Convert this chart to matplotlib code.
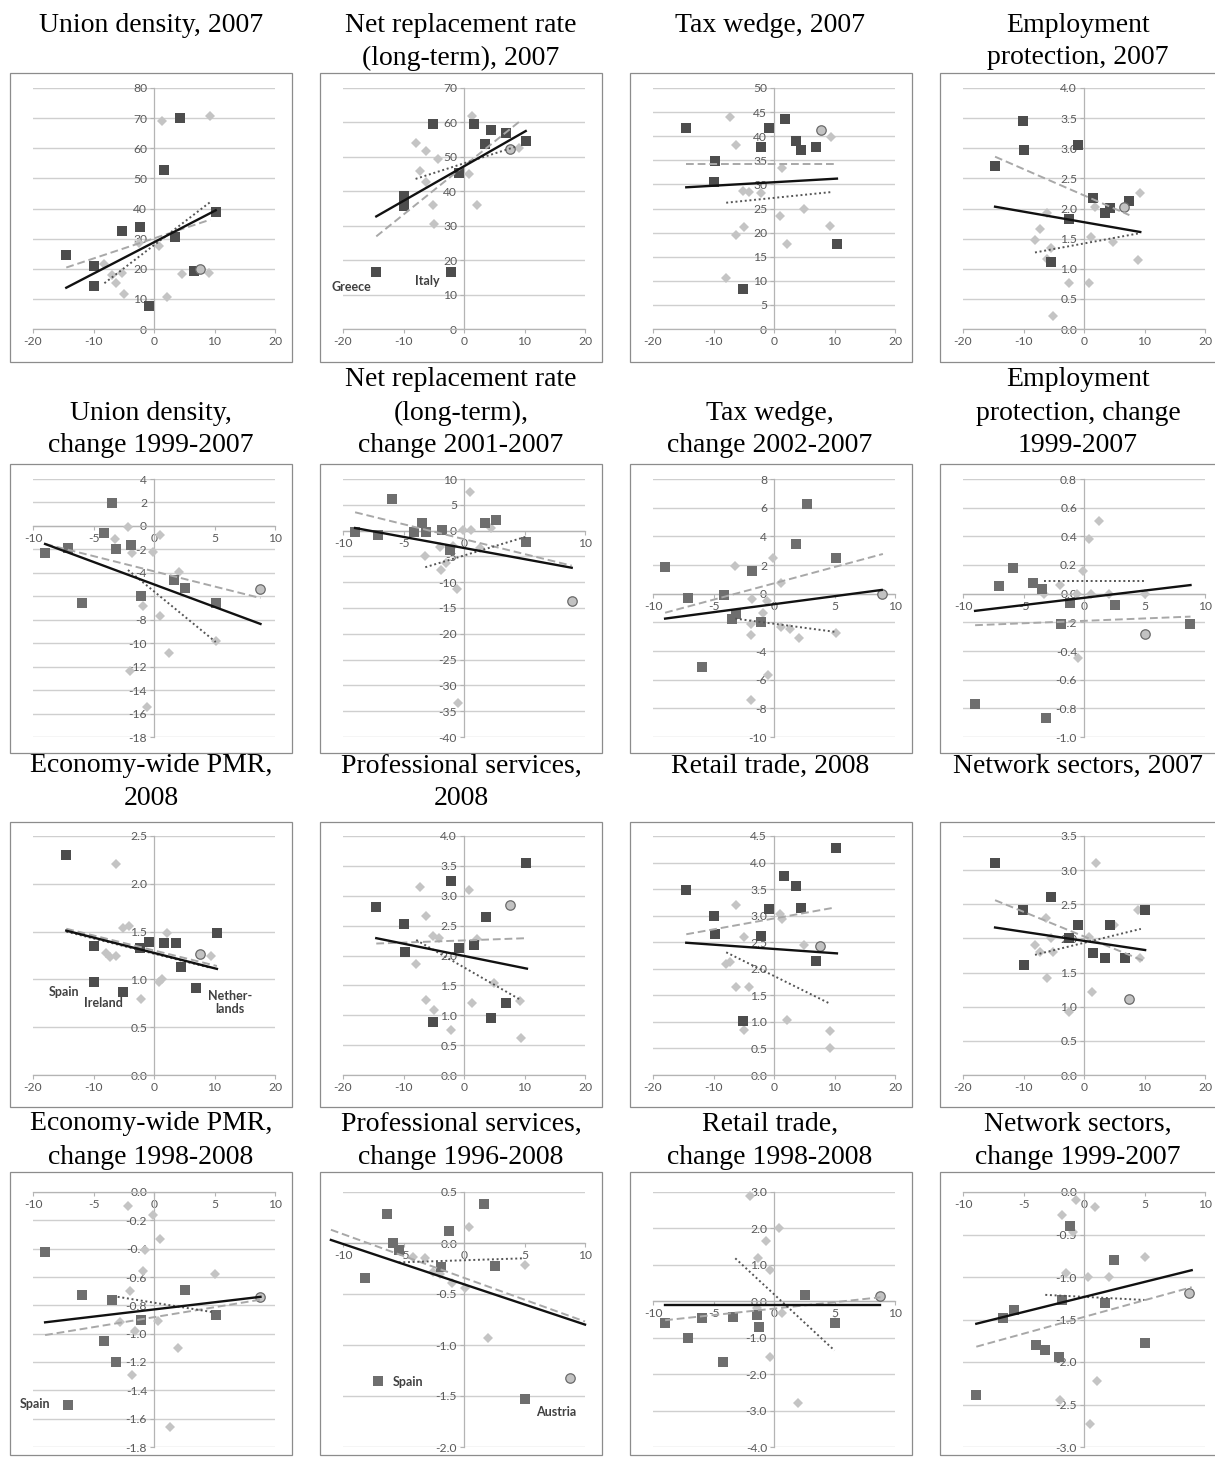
import matplotlib
matplotlib.use('Agg')
import matplotlib.pyplot as plt
from matplotlib.patches import Rectangle
from matplotlib.ticker import MultipleLocator, FuncFormatter

plt.rcParams['axes.unicode_minus'] = False
plt.rcParams['font.family'] = ['Lato', 'DejaVu Sans']

# ---------------- data ----------------
# Union density, 2007
ud07_sq_x = [-14.5, -10.0, -9.9, -5.3, -2.3, -0.8, 1.6, 4.3, 3.4, 6.6, 10.2]
ud07_sq_y = [24.4, 20.9, 14.3, 32.4, 33.7, 7.6, 52.9, 70.1, 30.7, 19.3, 38.8]
ud07_di_x = [1.3, 9.3, -8.2, -7.0, -5.3, -6.2, -5.0, 0.9, 2.1, 4.7, 9.1, -2.5]
ud07_di_y = [69.1, 70.7, 21.6, 18.0, 18.5, 15.2, 11.7, 27.6, 10.5, 18.3, 18.7, 28.5]
ud07_ci = [7.6, 19.9]
ud07_fit = [([-14.5, 10.2], [13.7, 39.4]), ([-14.5, 9.3], [20.4, 36.3]), ([-8.2, 9.4], [15.2, 42.3])]

# Net replacement rate (long-term), 2007
nrr07_sq_x = [-14.5, -9.9, -9.9, -5.2, -0.9, -2.2, 1.6, 4.4, 3.5, 6.9, 10.2]
nrr07_sq_y = [16.7, 38.6, 35.6, 59.4, 45.2, 16.7, 59.4, 57.9, 53.8, 56.8, 54.5]
nrr07_di_x = [1.4, -8.0, -6.2, -4.3, -7.2, -6.2, -5.2, -5.0, 0.9, 2.2, 9.1]
nrr07_di_y = [61.8, 54.0, 51.6, 49.5, 45.8, 42.7, 36.1, 30.5, 45.0, 35.9, 52.6]
nrr07_ci = [7.6, 52.3]
nrr07_fit = [([-14.5, 10.2], [32.7, 57.5]), ([-14.5, 9.2], [26.9, 60.3]), ([-8.0, 8.8], [43.6, 53.1])]
nrr07_notes = [('Greece', -18.6, 12.3), ('Italy', -6.1, 13.8)]

# Tax wedge, 2007
tw07_sq_x = [-14.5, -9.8, -9.9, -5.2, -2.2, -0.8, 1.8, 3.6, 4.5, 6.9, 10.4]
tw07_sq_y = [41.6, 34.8, 30.4, 8.2, 37.8, 41.7, 43.6, 39.1, 37.1, 37.8, 17.7]
tw07_di_x = [-7.2, -6.2, -5.2, -4.2, -2.2, -5.0, -6.2, -7.9, 1.4, 1.0, 2.2, 4.9, 9.4, 9.3]
tw07_di_y = [43.9, 38.1, 28.7, 28.4, 28.2, 21.2, 19.5, 10.5, 33.5, 23.5, 17.6, 25.0, 39.8, 21.3]
tw07_ci = [7.7, 41.3]
tw07_fit = [([-14.5, 10.4], [29.4, 31.2]), ([-14.5, 10.4], [34.3, 34.3]), ([-7.9, 9.4], [26.2, 28.4])]

# Employment protection, 2007
ep07_sq_x = [-14.7, -10.1, -10.0, -1.0, -2.5, -5.4, 1.5, 3.4, 4.3, 7.5]
ep07_sq_y = [2.71, 3.46, 2.97, 3.05, 1.82, 1.12, 2.17, 1.92, 2.01, 2.12]
ep07_di_x = [-8.1, -7.2, -6.1, -5.4, -6.1, -2.5, -5.2, 0.8, 1.2, 1.9, 4.8, 9.2, 9.0]
ep07_di_y = [1.48, 1.66, 1.92, 1.35, 1.16, 0.76, 0.22, 0.76, 1.52, 2.03, 1.45, 2.25, 1.15]
ep07_ci = [6.6, 2.03]
ep07_fit = [([-14.7, 9.3], [2.03, 1.61]), ([-14.7, 7.5], [2.86, 1.89]), ([-8.1, 9.2], [1.27, 1.59])]

# Union density, change 1999-2007
udch_sq_x = [-9.0, -7.1, -5.96, -4.1, -3.5, -3.1, -1.9, -1.05, 1.66, 2.6, 5.1]
udch_sq_y = [-2.33, -1.88, -6.6, -0.63, 1.99, -1.93, -1.65, -5.97, -4.6, -5.3, -6.6]
udch_di_x = [-2.15, -3.2, -1.8, -0.1, 0.5, 2.1, -0.94, 0.5, 1.2, 5.1, -2.0, -0.55]
udch_di_y = [-0.06, -1.08, -2.33, -2.2, -0.8, -3.9, -6.8, -7.7, -10.8, -9.8, -12.4, -15.4]
udch_ci = [8.8, -5.4]
udch_fit = [([-9.0, 8.8], [-1.54, -8.36]), ([-9.0, 8.8], [-1.54, -6.15]), ([-2.15, 5.1], [-3.76, -9.9])]

# Net replacement rate, change 2001-2007
nrrch_sq_x = [-9.0, -7.1, -5.96, -4.1, -3.5, -3.1, -1.8, -1.16, 1.77, 2.65, 5.1]
nrrch_sq_y = [-0.3, -0.8, 6.2, -0.3, 1.5, -0.3, 0.06, -3.7, 1.5, 2.1, -2.3]
nrrch_di_x = [0.5, -0.1, 0.6, -3.2, -2.0, -0.94, -1.9, -1.5, -0.55, -0.5, 1.3, 2.2]
nrrch_di_y = [7.5, 0.2, 0.2, -5.0, -3.2, -2.9, -7.6, -6.3, -11.4, -33.5, -3.3, 0.6]
nrrch_ci = [8.9, -13.6]
nrrch_fit = [([-9.0, 8.9], [0.5, -7.2]), ([-9.0, 8.9], [3.55, -6.8]), ([-3.2, 5.1], [-7.1, -1.2])]

# Tax wedge, change 2002-2007
twch_sq_x = [-9.0, -7.1, -5.96, -4.1, -3.5, -3.1, -1.8, -1.1, 1.8, 2.7, 5.1]
twch_sq_y = [1.88, -0.3, -5.1, -0.07, -1.74, -1.44, 1.56, -1.98, 3.47, 6.26, 2.49]
twch_di_x = [-3.2, -0.1, 0.6, -1.8, -0.55, -0.94, -1.9, -1.9, 0.6, 1.3, 2.1, 5.1, -0.5, -1.9]
twch_di_y = [1.93, 2.49, 0.72, -0.4, -0.53, -1.37, -2.1, -2.9, -2.35, -2.44, -3.1, -2.72, -5.7, -7.4]
twch_ci = [8.9, -0.02]
twch_fit = [([-9.0, 8.9], [-1.74, 0.26]), ([-9.0, 9.0], [-1.33, 2.77]), ([-3.2, 5.1], [-1.74, -2.67])]

# Employment protection, change 1999-2007
epch_sq_x = [-9.0, -7.0, -5.9, -4.2, -3.5, -3.1, -1.9, -1.15, 2.6, 8.8]
epch_sq_y = [-0.77, 0.054, 0.18, 0.072, 0.035, -0.87, -0.21, -0.068, -0.077, -0.21]
epch_di_x = [1.2, 0.44, -0.1, -2.0, -3.3, -0.55, 0.55, 2.05, 5.0, -0.5]
epch_di_y = [0.51, 0.38, 0.16, 0.063, 0.0, 0.0, 0.0, 0.0, 0.0, -0.45]
epch_ci = [5.07, -0.28]
epch_fit = [([-9.0, 8.8], [-0.12, 0.06]), ([-9.0, 8.8], [-0.22, -0.16]), ([-3.3, 5.07], [0.09, 0.09])]

# Economy-wide PMR, 2008
pmr08_sq_x = [-14.5, -10.0, -9.9, -5.2, -2.3, -0.8, 1.65, 3.6, 4.5, 6.9, 10.4]
pmr08_sq_y = [2.30, 1.35, 0.97, 0.87, 1.33, 1.39, 1.38, 1.38, 1.13, 0.91, 1.49]
pmr08_di_x = [-6.2, -5.2, -4.2, -7.9, -7.2, -6.2, -2.2, 0.9, 1.4, 2.2, 9.4]
pmr08_di_y = [2.21, 1.54, 1.56, 1.28, 1.23, 1.24, 0.80, 0.97, 1.00, 1.49, 1.24]
pmr08_ci = [7.6, 1.27]
pmr08_fit = [([-14.5, 10.4], [1.51, 1.11]), ([-14.5, 10.4], [1.53, 1.14]), ([-14.5, 9.4], [1.50, 1.12])]
pmr08_notes = [('Spain', -14.9, 0.87), ('Ireland', -8.4, 0.75), ('Nether-\nlands', 12.6, 0.76)]

# Professional services, 2008
ps08_sq_x = [-14.5, -9.9, -9.8, -5.2, -2.2, -0.8, 1.66, 3.6, 4.5, 6.9, 10.3]
ps08_sq_y = [2.81, 2.53, 2.06, 0.88, 3.24, 2.12, 2.17, 2.65, 0.96, 1.21, 3.54]
ps08_di_x = [-7.2, 0.9, -6.2, -5.2, -4.2, 2.1, -7.9, -6.2, -5.0, -2.2, 1.4, 4.9, 9.3, 9.4]
ps08_di_y = [3.15, 3.10, 2.66, 2.32, 2.29, 2.28, 1.86, 1.25, 1.09, 0.75, 1.20, 1.54, 1.24, 0.62]
ps08_ci = [7.6, 2.85]
ps08_fit = [([-14.5, 10.4], [2.29, 1.78]), ([-14.5, 10.4], [2.20, 2.29]), ([-7.9, 9.3], [2.26, 1.26])]

# Retail trade, 2008
rt08_sq_x = [-14.5, -9.9, -9.8, -5.2, -2.2, -0.8, 1.65, 3.6, 4.5, 6.9, 10.3]
rt08_sq_y = [3.49, 3.00, 2.66, 1.01, 2.62, 3.12, 3.74, 3.55, 3.14, 2.14, 4.28]
rt08_di_x = [-6.2, -4.9, 1.0, 1.4, -7.9, -7.2, 4.9, -6.2, -4.2, -5.0, 2.2, 9.2, 9.3]
rt08_di_y = [3.20, 2.59, 3.04, 2.93, 2.09, 2.12, 2.45, 1.65, 1.65, 0.85, 1.03, 0.82, 0.51]
rt08_ci = [7.6, 2.43]
rt08_fit = [([-14.5, 10.4], [2.49, 2.29]), ([-14.5, 9.9], [2.65, 3.15]), ([-7.9, 9.3], [2.31, 1.34])]

# Network sectors, 2007
ns07_sq_x = [-14.7, -10.1, -10.0, -5.4, -2.4, -1.0, 1.5, 3.4, 4.3, 6.7, 10.0]
ns07_sq_y = [3.11, 2.41, 1.61, 2.60, 2.00, 2.20, 1.79, 1.71, 2.20, 1.71, 2.41]
ns07_di_x = [2.0, -6.2, -5.4, -8.1, -7.2, -5.2, -2.1, 0.8, -6.1, 1.3, -2.5, 8.9, 9.2, 4.9]
ns07_di_y = [3.11, 2.30, 2.00, 1.90, 1.80, 1.80, 2.00, 2.02, 1.42, 1.22, 0.92, 2.41, 1.71, 2.20]
ns07_ci = [7.5, 1.11]
ns07_fit = [([-14.7, 10.1], [2.16, 1.83]), ([-14.7, 10.2], [2.56, 1.66]), ([-8.1, 9.4], [1.76, 2.14])]

# Economy-wide PMR, change 1998-2008
pmrch_sq_x = [-9.0, -7.1, -5.96, -4.1, -3.5, -3.1, -1.1, 2.6, 5.1]
pmrch_sq_y = [-0.42, -1.50, -0.73, -1.05, -0.76, -1.20, -0.90, -0.69, -0.87]
pmrch_di_x = [-2.15, -0.1, 0.5, -0.75, -0.9, -2.0, -2.8, -1.6, 0.3, 2.0, -1.8, 1.3, 5.0]
pmrch_di_y = [-0.10, -0.16, -0.33, -0.41, -0.56, -0.70, -0.92, -0.98, -0.91, -1.10, -1.29, -1.66, -0.58]
pmrch_ci = [8.8, -0.74]
pmrch_fit = [([-9.0, 8.8], [-0.92, -0.74]), ([-9.0, 8.8], [-1.01, -0.76]), ([-3.0, 5.0], [-0.74, -0.85])]
pmrch_notes = [('Spain', -9.8, -1.50)]

# Professional services, change 1996-2008
psch_sq_x = [-8.2, -7.1, -6.4, -5.9, -5.4, -1.9, -1.2, 1.65, 2.6, 5.0]
psch_sq_y = [-0.34, -1.35, 0.28, 0.0, -0.07, -0.24, 0.12, 0.38, -0.23, -1.53]
psch_di_x = [0.4, -4.2, -3.2, -2.6, -2.0, -1.0, 0.1, 5.0, 2.0]
psch_di_y = [0.16, -0.14, -0.15, -0.28, -0.30, -0.39, -0.44, -0.22, -0.93]
psch_ci = [8.8, -1.32]
psch_fit = [([-11.0, 10.0], [0.03, -0.80]), ([-11.0, 10.0], [0.13, -0.77]), ([-5.4, 5.0], [-0.19, -0.15])]
psch_notes = [('Spain', -4.6, -1.36), ('Austria', 7.6, -1.66)]

# Retail trade, change 1998-2008
rtch_sq_x = [-9.0, -7.1, -5.95, -4.2, -3.4, -1.4, -1.2, 2.6, 5.0]
rtch_sq_y = [-0.60, -1.02, -0.47, -1.68, -0.44, -0.38, -0.71, 0.16, -0.60]
rtch_di_x = [-2.0, 0.4, -0.7, -1.3, -0.3, 0.7, -0.3, 5.0, 2.0, -1.4]
rtch_di_y = [2.88, 2.0, 1.65, 1.2, 0.85, -0.33, -1.54, -0.58, -2.8, -0.19]
rtch_ci = [8.8, 0.14]
rtch_fit = [([-9.0, 8.8], [-0.11, -0.11]), ([-9.0, 8.8], [-0.52, 0.11]), ([-3.2, 5.0], [1.18, -1.35])]

# Network sectors, change 1999-2007
nsch_sq_x = [-8.9, -6.7, -5.8, -4.0, -3.2, -1.8, -2.1, -1.15, 1.7, 2.5, 5.0]
nsch_sq_y = [-2.39, -1.48, -1.39, -1.80, -1.86, -1.27, -1.94, -0.40, -1.31, -0.80, -1.78]
nsch_di_x = [-0.7, -0.9, -1.8, 0.9, -1.5, 0.3, 2.1, 5.0, -2.0, 0.5, 1.1]
nsch_di_y = [-0.09, -0.47, -0.27, -0.18, -0.95, -1.0, -1.0, -0.76, -2.45, -2.73, -2.22]
nsch_ci = [8.7, -1.19]
nsch_fit = [([-8.9, 8.9], [-1.55, -0.92]), ([-8.9, 8.9], [-1.82, -1.12]), ([-3.2, 5.0], [-1.21, -1.27])]

titles = [
    ['Union density, 2007'], ['Net replacement rate', '(long-term), 2007'],
    ['Tax wedge, 2007'], ['Employment', 'protection, 2007'],
    ['Union density,', 'change 1999-2007'], ['Net replacement rate', '(long-term),', 'change 2001-2007'],
    ['Tax wedge,', 'change 2002-2007'], ['Employment', 'protection, change', '1999-2007'],
    ['Economy-wide PMR,', '2008'], ['Professional services,', '2008'],
    ['Retail trade, 2008'], ['Network sectors, 2007'],
    ['Economy-wide PMR,', 'change 1998-2008'], ['Professional services,', 'change 1996-2008'],
    ['Retail trade,', 'change 1998-2008'], ['Network sectors,', 'change 1999-2007'],
]

# axis setup per panel: (ymin, ymax, ystep, decimals)
yaxes = [(0, 80, 10, 0), (0, 70, 10, 0), (0, 50, 5, 0), (0, 4, 0.5, 1),
         (-18, 4, 2, 0), (-40, 10, 5, 0), (-10, 8, 2, 0), (-1.0, 0.8, 0.2, 1),
         (0, 2.5, 0.5, 1), (0, 4, 0.5, 1), (0, 4.5, 0.5, 1), (0, 3.5, 0.5, 1),
         (-1.8, 0, 0.2, 1), (-2.0, 0.5, 0.5, 1), (-4, 3, 1, 1), (-3, 0, 0.5, 1)]

panels = [
    (ud07_sq_x, ud07_sq_y, ud07_di_x, ud07_di_y, ud07_ci, ud07_fit, []),
    (nrr07_sq_x, nrr07_sq_y, nrr07_di_x, nrr07_di_y, nrr07_ci, nrr07_fit, nrr07_notes),
    (tw07_sq_x, tw07_sq_y, tw07_di_x, tw07_di_y, tw07_ci, tw07_fit, []),
    (ep07_sq_x, ep07_sq_y, ep07_di_x, ep07_di_y, ep07_ci, ep07_fit, []),
    (udch_sq_x, udch_sq_y, udch_di_x, udch_di_y, udch_ci, udch_fit, []),
    (nrrch_sq_x, nrrch_sq_y, nrrch_di_x, nrrch_di_y, nrrch_ci, nrrch_fit, []),
    (twch_sq_x, twch_sq_y, twch_di_x, twch_di_y, twch_ci, twch_fit, []),
    (epch_sq_x, epch_sq_y, epch_di_x, epch_di_y, epch_ci, epch_fit, []),
    (pmr08_sq_x, pmr08_sq_y, pmr08_di_x, pmr08_di_y, pmr08_ci, pmr08_fit, pmr08_notes),
    (ps08_sq_x, ps08_sq_y, ps08_di_x, ps08_di_y, ps08_ci, ps08_fit, []),
    (rt08_sq_x, rt08_sq_y, rt08_di_x, rt08_di_y, rt08_ci, rt08_fit, []),
    (ns07_sq_x, ns07_sq_y, ns07_di_x, ns07_di_y, ns07_ci, ns07_fit, []),
    (pmrch_sq_x, pmrch_sq_y, pmrch_di_x, pmrch_di_y, pmrch_ci, pmrch_fit, pmrch_notes),
    (psch_sq_x, psch_sq_y, psch_di_x, psch_di_y, psch_ci, psch_fit, psch_notes),
    (rtch_sq_x, rtch_sq_y, rtch_di_x, rtch_di_y, rtch_ci, rtch_fit, []),
    (nsch_sq_x, nsch_sq_y, nsch_di_x, nsch_di_y, nsch_ci, nsch_fit, []),
]

# ---------------- layout (pixels) ----------------
W, H = 1215, 1457
frame_left = [10, 320, 630, 940]
frame_w = 282
frame_rows = [(73, 362), (464, 753), (822, 1107), (1172, 1455)]
plot_rows = [(88, 329), (479, 737), (836, 1075), (1192, 1447)]
title_cx = [151, 461, 770, 1078]
title_first = [25, None, 766, 1124]
title_last = [None, 446, None, None]
line_gap = 33

fig = plt.figure(figsize=(W / 100, H / 100), dpi=100)
fig.patch.set_facecolor('white')


def fy(p):
    return 1 - p / H


for k, (sx, sy, dx, dy, ci, fit, notes) in enumerate(panels):
    r, c = divmod(k, 4)
    fl = frame_left[c]
    ft, fb = frame_rows[r]
    fig.add_artist(Rectangle((fl / W, fy(fb)), frame_w / W, (fb - ft) / H,
                             transform=fig.transFigure, fill=False,
                             ec='#8c8c8c', lw=0.9))

    # title lines
    lines = titles[k]
    for i, t in enumerate(lines):
        if title_first[r] is not None:
            yc = title_first[r] + i * line_gap
        else:
            yc = title_last[r] - (len(lines) - 1 - i) * line_gap
        fig.text(title_cx[c] / W, fy(yc), t, ha='center', va='center',
                 fontsize=20, family=['Liberation Serif', 'DejaVu Serif'])

    pt, pb = plot_rows[r]
    pl = fl + 23
    ax = fig.add_axes([pl / W, fy(pb), 242 / W, (pb - pt) / H])
    ax.patch.set_alpha(0)

    wide = r in (0, 2)
    ymin, ymax, ystep, dec = yaxes[k]
    ax.set_xlim(-20, 20) if wide else ax.set_xlim(-10, 10)
    ax.set_ylim(ymin, ymax)
    ax.xaxis.set_major_locator(MultipleLocator(10 if wide else 5))
    ax.yaxis.set_major_locator(MultipleLocator(ystep))
    ax.yaxis.set_major_formatter(FuncFormatter(
        lambda v, _, d=dec: ('%.' + str(d) + 'f') % (0.0 if abs(v) < 1e-9 else v)))
    ax.xaxis.set_major_formatter(FuncFormatter(lambda v, _: '%d' % round(v)))

    for s in ('top', 'right'):
        ax.spines[s].set_visible(False)
    ax.spines['left'].set_position(('data', 0))
    ax.spines['bottom'].set_position(('data', 0))
    for s in ('left', 'bottom'):
        ax.spines[s].set_color('#b4b4b4')
        ax.spines[s].set_linewidth(0.9)
    ax.grid(axis='y', color='#cfcfcf', lw=1.0)
    ax.set_axisbelow(True)
    ax.tick_params(axis='both', labelsize=8.7, labelcolor='#5a5a5a',
                   color='#b4b4b4', length=3, width=0.8, pad=2)

    sq_col = '#4d4d4d' if wide else '#6e6e6e'
    ax.plot(dx, dy, 'D', ms=4.6, color='#c4c4c4', mew=0, zorder=3, clip_on=False)
    ax.plot(sx, sy, 's', ms=7.2, color=sq_col, mew=0, zorder=3.2, clip_on=False)
    ax.plot([ci[0]], [ci[1]], 'o', ms=6.8, mfc='#c2c2c2', mec='#6a6a6a',
            mew=0.9, zorder=3.4, clip_on=False)

    (sxl, syl), (dxl, dyl), (oxl, oyl) = fit
    ax.plot(dxl, dyl, color='#a8a8a8', lw=1.4, dashes=(4, 2), zorder=4, clip_on=False)
    ax.plot(oxl, oyl, color='#555555', lw=1.4, linestyle=(0, (1, 1.4)), zorder=4, clip_on=False)
    ax.plot(sxl, syl, color='#111111', lw=1.7, zorder=4.2, clip_on=False)

    for txt, tx, ty in notes:
        ax.text(tx, ty, txt, ha='center', va='center', fontsize=9,
                fontweight='bold', color='#404040', linespacing=1.1,
                zorder=5, clip_on=False)

fig.savefig('out.png', dpi=100, facecolor='white')
